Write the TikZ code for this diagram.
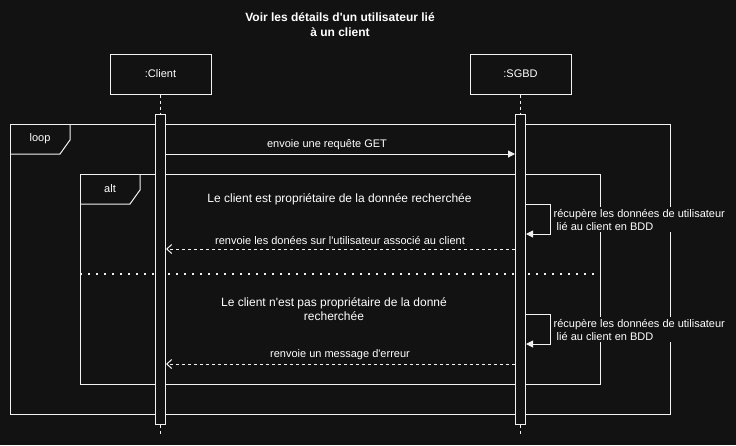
\documentclass[tikz,border=0pt]{standalone}
\usepackage{fontspec}
\newfontfamily\lsans{Liberation Sans}
\usetikzlibrary{arrows.meta}
\definecolor{bg}{HTML}{121212}
\definecolor{fg}{HTML}{F2F2F2}
\begin{document}
\begin{tikzpicture}[x=1pt,y=-1pt,
  every node/.style={text=white, font=\lsans\fontsize{11}{13}\selectfont},
  pen/.style={draw=fg, line width=1pt},
  lifebox/.style={pen, fill=bg, minimum width=101pt, minimum height=40pt, inner sep=0pt},
  actbar/.style={pen, fill=bg, minimum width=10pt, minimum height=310pt, inner sep=0pt},
  lifedash/.style={pen, dash pattern=on 3pt off 3pt},
  callmsg/.style={pen, -{Triangle[length=7pt,width=7pt]}},
  retmsg/.style={pen, dash pattern=on 3pt off 3pt, -{Straight Barb[length=5pt,width=9pt]}},
  sepline/.style={draw=fg, line width=1.5pt, dash pattern=on 1.5pt off 6.5pt},
  msglabel/.style={inner sep=0pt},
  condtext/.style={font=\lsans\fontsize{12}{14}\selectfont, align=center},
  selflabel/.style={fill=bg, inner sep=1.5pt, align=left, anchor=west},
  titlestyle/.style={font=\lsans\fontsize{12}{15}\selectfont\bfseries, align=center}
]
\fill[bg] (0,0) rectangle (736,445);
\useasboundingbox (0,0) rectangle (736,445);

% title
\node[titlestyle] (title) at (340,24.5) {Voir les détails d'un utilisateur lié\\à un client};

% loop frame
\draw[pen] (10,124) rectangle (670,414);
\draw[pen] (10,154) -- (60,154) -- (70,140) -- (70,124);
\node (loop) at (40,139) {loop};

% alt frame
\draw[pen] (80,174) rectangle (600,384);
\draw[pen] (80,204) -- (130,204) -- (140,190) -- (140,174);
\node (alt) at (110,189) {alt};
\coordinate (sepA) at (80,274);
\coordinate (sepB) at (597,274);
\draw[sepline] (sepA) -- (sepB);

% lifelines
\node[lifebox] (client) at (160.5,74) {:Client};
\node[lifebox] (sgbd) at (520.5,74) {:SGBD};
\node[actbar] (cbar) at (160.5,269) {};
\node[actbar] (sbar) at (520.5,269) {};
\coordinate (cend) at (160.5,434);
\coordinate (send) at (520.5,434);
\draw[lifedash] (client.south) -- (cbar.north);
\draw[lifedash] (sgbd.south) -- (sbar.north);
\draw[lifedash] (cbar.south) -- (cend);
\draw[lifedash] (sbar.south) -- (send);

% message 1
\coordinate (y1) at (0,154);
\draw[callmsg] (cbar.east |- y1) -- (sbar.west |- y1);
\node[msglabel] (l1) at (327,145) {envoie une requête GET};

% branch 1
\node[condtext] (cond1) at (339.5,199.5) {Le client est propriétaire de la donnée recherchée};
\coordinate (s1a) at (550,204);
\coordinate (s1b) at (550,234);
\draw[callmsg] (sbar.east |- s1a) -- (s1a) -- (s1b) -- (sbar.east |- s1b);
\node[selflabel] (self1) at (552,219.5) {récupère les données de utilisateur\\\hspace{3pt}lié au client en BDD};
\coordinate (y2) at (0,249);
\draw[retmsg] (sbar.west |- y2) -- (cbar.east |- y2);
\node[msglabel] (l2) at (340,240) {renvoie les donées sur l'utilisateur associé au client};

% branch 2
\node[condtext] (cond2) at (334,309.5) {Le client n'est pas propriétaire de la donné\\recherchée};
\coordinate (s2a) at (550,314);
\coordinate (s2b) at (550,344);
\draw[callmsg] (sbar.east |- s2a) -- (s2a) -- (s2b) -- (sbar.east |- s2b);
\node[selflabel] (self2) at (552,329.5) {récupère les données de utilisateur\\\hspace{3pt}lié au client en BDD};
\coordinate (y3) at (0,364);
\draw[retmsg] (sbar.west |- y3) -- (cbar.east |- y3);
\node[msglabel] (l3) at (340,355) {renvoie un message d'erreur};
\end{tikzpicture}
\end{document}
